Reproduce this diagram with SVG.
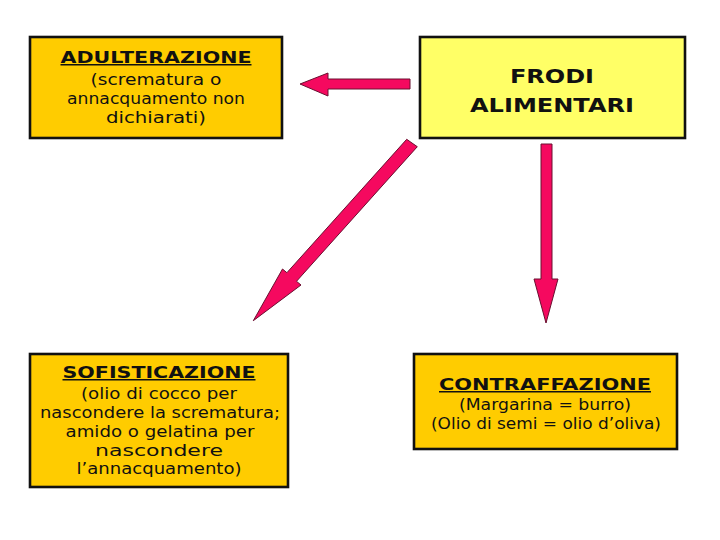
<svg xmlns="http://www.w3.org/2000/svg" width="720" height="540" viewBox="0 0 720 540">
<style>
.box{fill:#FFCC00;stroke:#111;stroke-width:2.6}
.box2{fill:#FFFF66;stroke:#111;stroke-width:2.6}
text{font-family:"DejaVu Sans",Verdana,sans-serif;fill:#111;text-anchor:middle}
.t{font-size:15px;font-weight:bold;text-decoration:underline}
.s{font-size:15px}
.big{font-size:20px;font-weight:bold}
.arr{fill:#F5095F;stroke:#6A1030;stroke-width:1}
</style>
<rect width="720" height="540" fill="#fff"/>
<g id="adulterazione">
<rect class="box" x="30" y="37" width="252" height="101"/>
<text class="t" x="156" y="63" textLength="191" lengthAdjust="spacingAndGlyphs">ADULTERAZIONE</text>
<text class="s" x="156" y="85" textLength="131" lengthAdjust="spacingAndGlyphs">(scrematura o</text>
<text class="s" x="156" y="104" textLength="178" lengthAdjust="spacingAndGlyphs">annacquamento non</text>
<text class="s" x="156" y="123" textLength="100" lengthAdjust="spacingAndGlyphs">dichiarati)</text>
</g>
<g id="frodi">
<rect class="box2" x="420" y="37" width="265" height="101"/>
<text class="big" x="552" y="83" textLength="84" lengthAdjust="spacingAndGlyphs">FRODI</text>
<text class="big" x="552" y="112" textLength="164" lengthAdjust="spacingAndGlyphs">ALIMENTARI</text>
</g>
<g id="sofisticazione">
<rect class="box" x="30" y="354" width="258" height="133"/>
<text class="t" x="159" y="378" textLength="193" lengthAdjust="spacingAndGlyphs">SOFISTICAZIONE</text>
<text class="s" x="159" y="399" textLength="156" lengthAdjust="spacingAndGlyphs">(olio di cocco per</text>
<text class="s" x="160" y="418" textLength="240" lengthAdjust="spacingAndGlyphs">nascondere la scrematura;</text>
<text class="s" x="160" y="437" textLength="189" lengthAdjust="spacingAndGlyphs">amido o gelatina per</text>
<text class="s" x="159" y="456" textLength="128" lengthAdjust="spacingAndGlyphs">nascondere</text>
<text class="s" x="159" y="474" textLength="165" lengthAdjust="spacingAndGlyphs">l’annacquamento)</text>
</g>
<g id="contraffazione">
<rect class="box" x="414" y="354" width="263" height="95"/>
<text class="t" x="545" y="390" textLength="212" lengthAdjust="spacingAndGlyphs">CONTRAFFAZIONE</text>
<text class="s" x="545" y="410" textLength="172" lengthAdjust="spacingAndGlyphs">(Margarina = burro)</text>
<text class="s" x="546" y="429" textLength="230" lengthAdjust="spacingAndGlyphs">(Olio di semi = olio d’oliva)</text>
</g>
<g id="connectors">
<polygon class="arr" points="410,79 328,79 328,73 300,84 328,96 328,89 410,89"/>
<polygon class="arr" points="541,144 552,144 552,279 558,279 546,323 534,279 541,279"/>
<polygon class="arr" points="406.7,139.3 417.3,146.7 296.5,281.3 301,285 253.3,320.7 282.5,269 286.9,272.7"/>
</g>
</svg>
